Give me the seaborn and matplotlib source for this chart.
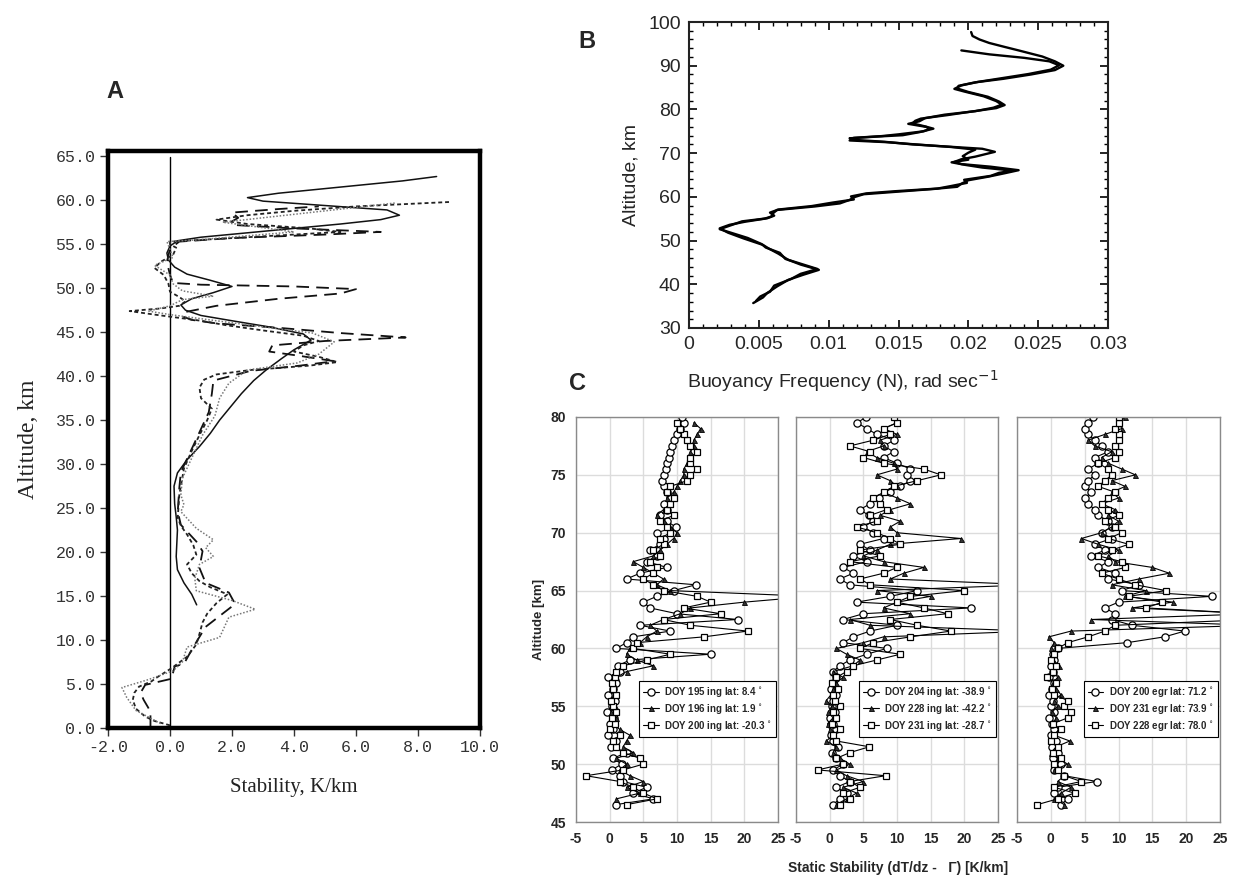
import numpy as np
import pandas as pd
import matplotlib
matplotlib.use("Agg")
import matplotlib.pyplot as plt
import seaborn as sns
from matplotlib.ticker import MultipleLocator, FixedLocator

# ---------------- DATA ----------------
# Panel A : stability profiles (K/km) vs altitude (km)
A_solid_alt = [14.0, 15.2, 16.5, 18.0, 19.5, 21.0, 22.5, 24.0, 25.5, 27.5, 29.0, 30.5, 32.0, 33.5, 35.0,
               36.5, 38.0, 39.5, 40.7, 42.0, 43.0, 44.1, 44.8, 45.6, 46.3, 46.9, 47.5, 48.1, 48.8, 49.5,
               50.2, 50.9, 51.6, 52.4, 53.2, 54.0, 54.8, 55.4, 55.8, 56.3, 56.8, 57.3, 57.8, 58.3, 58.9,
               59.4, 59.9, 60.3, 60.8, 61.5, 62.2, 62.7]
A_solid_val = [0.86, 0.70, 0.45, 0.24, 0.20, 0.22, 0.24, 0.20, 0.15, 0.13, 0.24, 0.55, 0.95, 1.30, 1.60,
               1.95, 2.30, 2.70, 3.10, 3.60, 4.00, 4.55, 4.30, 3.20, 2.00, 1.00, 0.50, 0.35, 0.70, 1.40,
               2.00, 1.30, 0.55, 0.15, -0.05, -0.10, 0.00, 0.25, 1.00, 2.50, 4.00, 5.50, 6.80, 7.40, 7.00,
               5.00, 3.00, 2.50, 3.50, 5.50, 7.50, 8.60]

A_ldash_alt = [0.0, 1.7, 2.3, 3.2, 4.0, 4.9, 5.6, 7.0, 7.3, 9.2, 11.5, 14.1, 15.4, 16.5, 18.2, 20.1, 21.2,
               23.1, 24.6, 27.3, 29.1, 32.1, 35.9, 38.0, 39.5, 40.6, 41.2, 41.7, 42.3, 42.8, 43.5, 44.0,
               44.4, 44.9, 45.5, 46.0, 46.4, 46.8, 47.3, 48.0, 48.8, 49.4, 49.9, 50.2, 50.4, 50.6, 51.5,
               53.0, 54.5, 55.3, 55.7, 56.1, 56.4, 56.8, 57.2, 57.6, 58.0, 58.6, 59.0, 59.3]
A_ldash_val = [-0.63, -0.63, -0.70, -0.85, -0.95, -0.80, 0.05, 0.15, 0.45, 0.75, 1.15, 2.10, 1.90, 1.15,
               0.95, 1.05, 0.85, 0.35, 0.25, 0.30, 0.35, 0.75, 1.25, 1.35, 1.40, 2.60, 4.20, 5.30, 4.20,
               3.20, 3.30, 5.00, 7.60, 5.50, 3.50, 1.50, 0.70, 0.40, 0.50, 1.50, 3.50, 5.50, 6.00, 4.00,
               1.00, 0.10, 0.00, -0.10, 0.00, 0.30, 2.00, 5.00, 6.80, 4.00, 2.00, 2.00, 2.20, 2.00, 3.50, 4.80]

A_sdash_alt = [0.3, 0.8, 1.3, 2.2, 3.2, 4.0, 4.7, 5.3, 5.8, 6.8, 8.1, 9.5, 10.7, 12.0, 13.0, 14.2, 15.2,
               16.0, 16.7, 17.6, 18.6, 19.7, 20.8, 22.0, 23.0, 23.9, 26.5, 29.5, 31.5, 33.3, 35.0, 36.3,
               37.5, 38.7, 39.6, 40.2, 40.7, 41.2, 41.6, 42.2, 42.8, 43.5, 44.0, 44.6, 45.2, 45.8, 46.3,
               47.0, 47.4, 47.7, 48.0, 48.5, 49.0, 49.6, 50.5, 51.5, 52.3, 53.0, 53.8, 54.6, 55.0, 55.3,
               55.6, 56.0, 56.4, 56.8, 57.3, 57.8, 58.3, 58.8, 59.3, 59.8]
A_sdash_val = [0.00, -0.50, -0.80, -1.10, -1.20, -1.15, -1.00, -0.60, -0.40, 0.05, 0.55, 0.85, 0.95, 1.05,
               1.20, 1.50, 1.85, 1.30, 0.95, 0.70, 0.55, 0.85, 0.75, 0.55, 0.35, 0.25, 0.30, 0.45, 0.70,
               0.95, 1.20, 1.35, 1.00, 0.95, 1.10, 1.50, 2.60, 4.50, 5.40, 4.80, 4.00, 4.30, 4.80, 4.30,
               3.00, 1.80, 1.00, -0.50, -1.30, -0.30, 0.30, 0.50, 0.30, 0.00, -0.05, -0.20, -0.50, -0.30,
               0.10, 0.20, 0.00, 0.00, 1.50, 3.50, 5.50, 4.50, 2.50, 1.50, 2.50, 4.00, 6.00, 9.00]

A_dot_alt = [0.5, 2.0, 3.5, 4.6, 5.5, 6.5, 7.5, 9.2, 10.3, 12.6, 13.5, 14.5, 15.6, 17.0, 18.6, 19.5, 20.5,
             21.4, 22.7, 24.6, 25.4, 26.5, 28.4, 30.3, 33.3, 35.5, 37.5, 39.2, 40.7, 41.5, 42.5, 43.9,
             44.9, 45.7, 46.3, 47.0, 47.4, 48.0, 48.7, 49.1, 49.7, 50.5, 51.5, 52.6, 53.5, 55.3, 55.5,
             56.4, 57.5, 58.4, 59.7]
A_dot_val = [-0.30, -1.10, -1.40, -1.55, -0.70, 0.10, 0.40, 0.55, 1.60, 1.90, 2.75, 2.00, 0.85, 0.80,
             0.95, 1.40, 1.15, 1.40, 0.85, 0.35, 0.45, 0.35, 0.40, 0.65, 1.05, 1.45, 1.60, 1.90, 2.50,
             4.10, 4.80, 5.30, 4.60, 2.80, 1.50, 0.00, -0.70, 0.00, 0.40, 1.40, 0.40, 0.10, 0.00, -0.50,
             0.10, -0.10, 0.90, 4.00, 1.70, 4.00, 7.30]

A_xticks = [-2.0, 0.0, 2.0, 4.0, 6.0, 8.0, 10.0]
A_yticks = [0, 5, 10, 15, 20, 25, 30, 35, 40, 45, 50, 55, 60, 65]

# Panel B : buoyancy frequency (rad/s) vs altitude (km)
B1_alt = [35.7, 37.0, 38.0, 39.5, 41.0, 42.2, 43.3, 44.5, 45.6, 47.0, 48.2, 49.0, 50.5, 51.8, 52.8, 53.6,
          54.3, 55.0, 55.5, 56.2, 57.0, 57.8, 58.5, 59.3, 60.0, 60.6, 61.2, 61.8, 62.3, 63.0, 63.8, 64.6,
          65.4, 66.1, 66.9, 67.5, 68.0, 68.6, 69.2, 70.3, 71.0, 71.5, 72.0, 72.6, 73.0, 73.4, 73.8, 74.1,
          74.8, 75.6, 76.2, 76.8, 77.4, 77.9, 78.7, 79.5, 80.3, 81.0, 81.8, 82.9, 84.0, 84.8, 85.4, 86.2,
          87.0, 88.0, 89.0, 90.0, 91.0, 92.1, 93.5, 94.3, 95.2, 96.0, 96.8, 97.7]
B1_val = [0.0046, 0.0053, 0.0056, 0.0063, 0.0071, 0.0082, 0.0093, 0.0080, 0.0071, 0.0064, 0.0057, 0.0053,
          0.0039, 0.0028, 0.0022, 0.0029, 0.0040, 0.0054, 0.0059, 0.0060, 0.0063, 0.0090, 0.0108, 0.0115,
          0.0119, 0.0125, 0.0150, 0.0175, 0.0192, 0.0195, 0.0200, 0.0214, 0.0226, 0.0236, 0.0216, 0.0195,
          0.0190, 0.0195, 0.0205, 0.0219, 0.0210, 0.0185, 0.0160, 0.0140, 0.0120, 0.0115, 0.0135, 0.0153,
          0.0165, 0.0175, 0.0168, 0.0160, 0.0162, 0.0166, 0.0185, 0.0202, 0.0220, 0.0226, 0.0222, 0.0214,
          0.0200, 0.0192, 0.0193, 0.0205, 0.0225, 0.0245, 0.0262, 0.0268, 0.0262, 0.0253, 0.0236, 0.0226,
          0.0215, 0.0208, 0.0203, 0.0202]
B2_alt = [36.2, 37.2, 38.3, 39.7, 41.2, 42.4, 43.5, 44.6, 45.8, 47.2, 48.4, 49.2, 50.6, 51.9, 52.6, 53.5,
          54.4, 55.1, 55.7, 56.4, 57.1, 57.9, 58.7, 59.4, 60.1, 60.8, 61.3, 61.9, 62.5, 63.2, 63.9, 64.8,
          65.5, 66.0, 66.7, 67.3, 67.9, 68.5, 69.3, 70.1, 70.8, 71.4, 72.1, 72.5, 72.9, 73.5, 73.9, 74.3,
          75.0, 75.5, 76.0, 76.7, 77.3, 78.0, 78.8, 79.6, 80.4, 81.1, 81.9, 83.0, 84.1, 84.7, 85.5, 86.3,
          87.1, 88.1, 89.1, 90.1, 91.0, 91.8, 92.6, 93.5]
B2_val = [0.0048, 0.0051, 0.0058, 0.0061, 0.0073, 0.0080, 0.0092, 0.0081, 0.0069, 0.0065, 0.0055, 0.0052,
          0.0042, 0.0029, 0.0022, 0.0030, 0.0038, 0.0056, 0.0061, 0.0058, 0.0064, 0.0088, 0.0103, 0.0118,
          0.0116, 0.0127, 0.0148, 0.0178, 0.0188, 0.0199, 0.0197, 0.0216, 0.0222, 0.0232, 0.0210, 0.0198,
          0.0188, 0.0200, 0.0196, 0.0200, 0.0205, 0.0188, 0.0158, 0.0142, 0.0115, 0.0118, 0.0138, 0.0150,
          0.0168, 0.0172, 0.0170, 0.0157, 0.0165, 0.0169, 0.0183, 0.0205, 0.0218, 0.0224, 0.0220, 0.0211,
          0.0197, 0.0190, 0.0195, 0.0207, 0.0223, 0.0243, 0.0259, 0.0265, 0.0258, 0.0240, 0.0215, 0.0195]
B_xticks = [0, 0.005, 0.01, 0.015, 0.02, 0.025, 0.03]
B_xticklabels = ["0", "0.005", "0.01", "0.015", "0.02", "0.025", "0.03"]

# Panel C : static stability (K/km) vs altitude (km), 0.5 km samples from 46.5 to 80 km
C_alt = np.arange(46.5, 80.01, 0.5)
nan = np.nan
C1_doy195 = [0.9, 6.5, 3.5, 5.5, 2.0, 1.5, 0.3, 1.8, 0.5, 2.5, 0.2, 1.0, -0.3, 0.5, 0.0, 0.6, -0.4, 0.3,
             0.8, -0.2, 0.5, 1.0, -0.3, 1.5, 1.2, 3.0, 15.0, 1.0, 2.5, 3.5, 9.0, 4.5, 19.0, 10.0, 6.0, 5.0,
             7.0, 9.5, 12.8, 2.5, 4.5, 8.5, 5.5, 7.0, 6.0, 7.5, 8.0, 7.0, 9.8, 8.5, 7.5, 8.5, 8.0, 9.0,
             8.5, 8.0, 7.8, 8.1, 8.3, 8.5, 8.8, 9.0, 9.2, 9.5, 10.0, 10.5, 11.0, 10.8]
C1_doy196 = [nan, 1.0, 4.5, 2.5, 5.0, 3.0, 1.5, 2.5, 1.0, 3.5, 2.0, 2.5, 3.0, 1.5, 0.5, 1.0, 0.2, 0.8,
             0.3, 0.6, 0.2, 0.5, 1.0, 2.5, 6.5, 4.0, 2.5, 3.0, 4.5, 5.5, 7.0, 6.0, 8.0, 10.5, 12.0, 20.0,
             30.0, 9.0, 7.0, 8.0, 6.5, 5.0, 3.5, 6.5, 7.5, 8.5, 9.5, 10.0, 9.0, 8.0, 7.0, 8.0, 9.0, 8.5,
             9.5, 10.0, 10.5, 11.0, 11.0, 11.5, 12.0, 12.0, 12.5, 12.5, 13.0, 13.5, 12.5, nan]
C1_doy200 = [2.5, 7.0, 5.0, 3.5, 1.5, -3.5, 2.0, 5.0, 4.5, 2.0, 1.0, 0.5, 1.5, 0.0, 0.8, 0.3, 1.0, 0.5,
             0.2, 1.0, 0.5, 0.3, 0.8, 1.0, 2.0, 5.5, 9.0, 3.5, 4.0, 14.0, 20.5, 12.0, 8.0, 16.5, 11.0, 15.0,
             13.0, 8.0, 6.5, 5.0, 6.5, 7.0, 6.0, 7.5, 6.5, 8.0, 7.5, 9.0, 8.5, 7.5, 9.5, 8.5, 9.0, 9.5,
             8.5, 9.0, 11.5, 12.0, 13.0, 12.0, 12.0, 13.0, 12.0, 11.5, 11.0, 10.5, 10.0, nan]
C2_doy204 = [0.5, 1.5, 2.5, 1.0, 3.0, 1.5, 0.5, 2.0, 1.0, 0.3, 1.2, 0.5, 0.2, 1.0, 0.5, 0.0, 0.8, 0.3,
             0.5, 1.0, 0.2, 0.5, 1.0, 0.5, 1.5, 3.0, 5.5, 8.5, 2.0, 3.5, 6.0, 10.0, 2.0, 5.0, 21.0, 4.0,
             9.0, 13.0, 3.0, 1.5, 3.5, 2.0, 5.5, 3.5, 6.0, 4.5, 8.0, 6.5, 5.0, 6.5, 5.8, 4.5, 6.0, 7.3,
             9.0, 10.5, 12.0, 11.5, 12.0, 10.0, 8.0, 9.5, 8.0, 9.6, 7.0, 5.5, 4.1, 5.4]
C2_doy228 = [1.0, 2.5, 4.0, 2.0, 5.0, 2.5, 1.0, 3.0, 1.5, 0.5, 1.0, -0.5, 0.5, 0.0, -0.3, 0.5, -0.2, 0.3,
             -0.5, 0.2, 0.5, 1.0, 2.0, 0.5, 3.5, 4.5, 2.5, 1.0, 5.0, 8.0, 30.0, 6.0, 3.0, 12.0, 8.0, 10.0,
             15.0, 7.0, 30.0, 9.0, 11.0, 14.0, 8.0, 5.0, 7.0, 9.0, 19.5, 10.0, 9.0, 10.5, 7.5, 9.0, 12.0,
             10.0, 8.0, 10.0, 9.0, 7.0, 10.0, 9.5, 7.0, 5.5, 8.0, 7.5, 10.0, 8.0, 10.0, 9.5]
C2_doy231 = [1.5, 3.0, 2.0, 4.5, 3.0, 8.3, -1.8, 2.0, 1.0, 3.0, 5.9, 1.0, 0.5, 1.5, 0.3, 1.0, 0.5, 1.5,
             0.8, 0.5, 1.2, 0.3, 1.0, 2.5, 3.5, 7.0, 10.5, 4.5, 6.5, 12.0, 18.0, 13.0, 9.0, 17.5, 14.0, 10.0,
             12.0, 20.0, 6.0, 4.5, 8.0, 10.0, 3.0, 7.5, 4.5, 10.5, 9.0, 7.0, 4.0, 7.0, 6.0, 8.5, 7.5, 6.5,
             8.0, 9.5, 13.0, 16.5, 14.0, 8.0, 5.0, 6.0, 3.0, 6.5, 9.0, 8.0, 10.0, 9.5]
C3_doy200 = [1.5, 2.5, 0.5, 1.0, 6.8, 2.0, 0.5, 1.5, 0.3, 1.0, 0.2, 0.8, 0.0, 0.5, 0.2, -0.2, 0.5, 0.0,
             0.3, -0.3, 0.2, 0.5, -0.2, 0.3, 0.0, 0.5, 0.3, 1.0, 11.3, 16.8, 19.8, 12.0, 9.0, 9.5, 8.0, 10.0,
             23.8, 10.5, 13.0, 8.5, 9.5, 7.0, 8.5, 6.0, 8.0, 6.5, 9.0, 7.5, 9.0, 8.5, 7.0, 6.5, 5.5, 5.0,
             6.0, 5.0, 5.5, 6.5, 5.5, 7.0, 6.5, 8.5, 7.5, 6.5, 5.5, 5.0, 5.5, 6.3]
C3_doy231 = [2.0, 0.5, 1.5, 3.0, 1.0, 2.0, 0.5, 2.5, 1.0, 0.0, 0.8, 2.8, 0.5, 1.2, 0.3, 0.8, 0.2, 1.0,
             0.5, 1.5, 0.8, 0.3, 1.0, 0.5, 1.2, 0.3, 0.5, 0.0, 0.5, -0.3, 3.0, 30.0, 6.0, 30.0, 12.0, 18.0,
             11.0, 14.0, 9.0, 13.0, 17.5, 15.0, 9.5, 8.5, 10.0, 7.0, 4.5, 7.5, 9.0, 10.0, 8.5, 9.5, 7.5,
             10.0, 9.0, 11.0, 9.0, 12.5, 10.5, 8.5, 7.5, 9.0, 6.5, 5.5, 8.0, 10.5, 10.0, 11.0]
C3_doy228 = [-2.0, 1.0, 3.5, 0.5, 4.5, 2.0, 1.0, 0.5, 1.5, 0.3, 1.0, 0.0, 0.5, 1.5, 0.3, 2.5, 3.0, 2.0,
             2.5, 0.5, 0.2, 0.8, -0.5, 0.3, 0.8, 0.0, 0.5, 1.0, 2.5, 5.5, 8.0, 9.5, 30.0, 30.0, 14.0, 16.5,
             11.5, 17.0, 12.5, 10.0, 7.5, 11.0, 10.5, 7.0, 9.0, 11.5, 8.5, 10.5, 9.5, 8.0, 10.0, 8.5, 7.5,
             8.5, 9.5, 7.0, 8.0, 9.0, 8.5, 7.0, 9.5, 10.0, 9.5, 10.0, 10.0, 9.5, 10.0, 10.0]

C1_labels = ["DOY 195 ing lat: 8.4 $^{\\circ}$", "DOY 196 ing lat: 1.9 $^{\\circ}$", "DOY 200 ing lat: -20.3 $^{\\circ}$"]
C2_labels = ["DOY 204 ing lat: -38.9 $^{\\circ}$", "DOY 228 ing lat: -42.2 $^{\\circ}$", "DOY 231 ing lat: -28.7 $^{\\circ}$"]
C3_labels = ["DOY 200 egr lat: 71.2 $^{\\circ}$", "DOY 231 egr lat: 73.9 $^{\\circ}$", "DOY 228 egr lat: 78.0 $^{\\circ}$"]
C_xticks = [-5, 0, 5, 10, 15, 20, 25]
C_yticks = [45, 50, 55, 60, 65, 70, 75, 80]

# ---------------- FIGURE ----------------
sns.set_theme(style="white")
plt.rcParams['font.family'] = ['Liberation Sans', 'DejaVu Sans']
plt.rcParams['mathtext.fontset'] = 'dejavusans'
plt.rcParams['axes.unicode_minus'] = False

W, H = 1233, 886
fig = plt.figure(figsize=(W / 100, H / 100), dpi=100)
fig.patch.set_facecolor('white')


def rect(l, t, r, b):
    return [l / W, 1 - b / H, (r - l) / W, (b - t) / H]


# ----- Panel A -----
axA = fig.add_axes(rect(108, 151, 480, 728))
axA.set_facecolor('white')
axA.set_xlim(-2, 10)
axA.set_ylim(0, 65.6)
axA.axvline(0, ymin=0, ymax=64.9 / 65.6, color='black', lw=1.0)
specs = [
    (A_solid_alt, A_solid_val, '#111111', 1.1, None),
    (A_ldash_alt, A_ldash_val, '#111111', 1.3, (0, (7, 4))),
    (A_sdash_alt, A_sdash_val, '#222222', 1.3, (0, (2.2, 1.6))),
    (A_dot_alt, A_dot_val, '#777777', 1.1, (0, (1, 1.2))),
]
for alt, val, col, lw, ls in specs:
    sns.lineplot(x=val, y=alt, sort=False, estimator=None, ax=axA, color=col, lw=lw)
    if ls is not None:
        axA.lines[-1].set_linestyle(ls)
for s in axA.spines.values():
    s.set_linewidth(3.2)
    s.set_color('black')
axA.xaxis.set_major_locator(FixedLocator(A_xticks))
axA.yaxis.set_major_locator(FixedLocator(A_yticks))
axA.set_xticklabels([f"{v:.1f}" for v in A_xticks], family='Liberation Mono', fontsize=12, color='#333333')
axA.set_yticklabels([f"{v:.1f}" for v in A_yticks], family='Liberation Mono', fontsize=12, color='#333333')
axA.tick_params(axis='both', which='major', direction='out', length=6, width=1, color='#333333',
                left=True, bottom=True, pad=3)
axA.set_xlabel("Stability, K/km", family='Liberation Serif', fontsize=15, color='#222222', labelpad=16)
axA.set_ylabel("Altitude, km", family='Liberation Serif', fontsize=17, color='#222222', labelpad=12)
fig.text(115 / W, 1 - 92 / H, "A", fontsize=17, fontweight='bold', ha='center', va='center')

# ----- Panel B -----
axB = fig.add_axes(rect(689, 22, 1108, 328))
axB.set_facecolor('white')
sns.lineplot(x=B1_val, y=B1_alt, sort=False, estimator=None, ax=axB, color='black', lw=1.7)
sns.lineplot(x=B2_val, y=B2_alt, sort=False, estimator=None, ax=axB, color='black', lw=1.7)
axB.set_xlim(0, 0.03)
axB.set_ylim(30, 100)
axB.xaxis.set_major_locator(FixedLocator(B_xticks))
axB.xaxis.set_minor_locator(MultipleLocator(0.001))
axB.yaxis.set_major_locator(MultipleLocator(10))
axB.yaxis.set_minor_locator(MultipleLocator(2))
axB.set_xticklabels(B_xticklabels, fontsize=14)
axB.tick_params(axis='both', which='both', direction='in', top=True, right=True, left=True, bottom=True,
                color='black')
axB.tick_params(axis='both', which='major', length=6, width=1.2, labelsize=14, pad=6)
axB.tick_params(axis='both', which='minor', length=3, width=1.0)
for s in axB.spines.values():
    s.set_linewidth(1.5)
    s.set_color('#222222')
axB.set_ylabel("Altitude, km", fontsize=14, labelpad=6)
axB.set_xlabel("")
fig.text(843 / W, 1 - 381 / H, "Buoyancy Frequency (N), rad sec$^{-1}$", fontsize=14, ha='center', va='center')
fig.text(587 / W, 1 - 42 / H, "B", fontsize=17, fontweight='bold', ha='center', va='center')

# ----- Panel C -----
c_rects = [rect(576, 417, 778, 822), rect(796, 417, 998, 822), rect(1017, 417, 1220, 822)]
c_series = [
    (C1_doy195, C1_doy196, C1_doy200, C1_labels),
    (C2_doy204, C2_doy228, C2_doy231, C2_labels),
    (C3_doy200, C3_doy231, C3_doy228, C3_labels),
]
mstyles = [
    dict(marker='o', markersize=5.2, markerfacecolor='white', markeredgecolor='black', markeredgewidth=0.9),
    dict(marker='^', markersize=3.6, markerfacecolor='#333333', markeredgecolor='black', markeredgewidth=0.6),
    dict(marker='s', markersize=5.0, markerfacecolor='white', markeredgecolor='black', markeredgewidth=0.9),
]
for k, (r, ser) in enumerate(zip(c_rects, c_series)):
    ax = fig.add_axes(r)
    ax.set_facecolor('white')
    ax.set_xlim(-5, 25)
    ax.set_ylim(45, 80)
    ax.xaxis.set_major_locator(FixedLocator(C_xticks))
    ax.yaxis.set_major_locator(FixedLocator(C_yticks))
    ax.grid(True, color='#dcdcdc', lw=1.0)
    ax.set_axisbelow(True)
    for vals, ms, lab in zip(ser[:3], mstyles, ser[3]):
        df = pd.DataFrame({"alt": C_alt, "val": vals}).dropna()
        sns.lineplot(data=df, x="val", y="alt", sort=False, estimator=None, ax=ax, color='black',
                     lw=0.8, label=lab, **ms)
    for s in ax.spines.values():
        s.set_linewidth(1.0)
        s.set_color('#8a8a8a')
    ax.tick_params(axis='both', length=0, labelsize=10, pad=7)
    for t in ax.get_xticklabels() + ax.get_yticklabels():
        t.set_fontweight('bold')
    ax.set_xlabel("")
    if k == 0:
        ax.set_ylabel("Altitude [km]", fontsize=9.5, fontweight='bold', labelpad=4)
    else:
        ax.set_ylabel("")
        ax.set_yticklabels([])
    leg = ax.legend(loc='upper right', bbox_to_anchor=(0.99, 0.348), frameon=True, fancybox=False,
                    edgecolor='black', framealpha=1, prop=dict(weight='bold', size=7),
                    handlelength=1.6, borderpad=0.4, labelspacing=0.3, handletextpad=0.6,
                    borderaxespad=0)
    leg.get_frame().set_linewidth(0.8)

fig.text(898 / W, 1 - 868 / H, "Static Stability (dT/dz -   \u0393) [K/km]", fontsize=10,
         fontweight='bold', ha='center', va='center')
fig.text(578 / W, 1 - 383 / H, "C", fontsize=17, fontweight='bold', ha='center', va='center')

fig.savefig("out.png", dpi=100, facecolor='white')
